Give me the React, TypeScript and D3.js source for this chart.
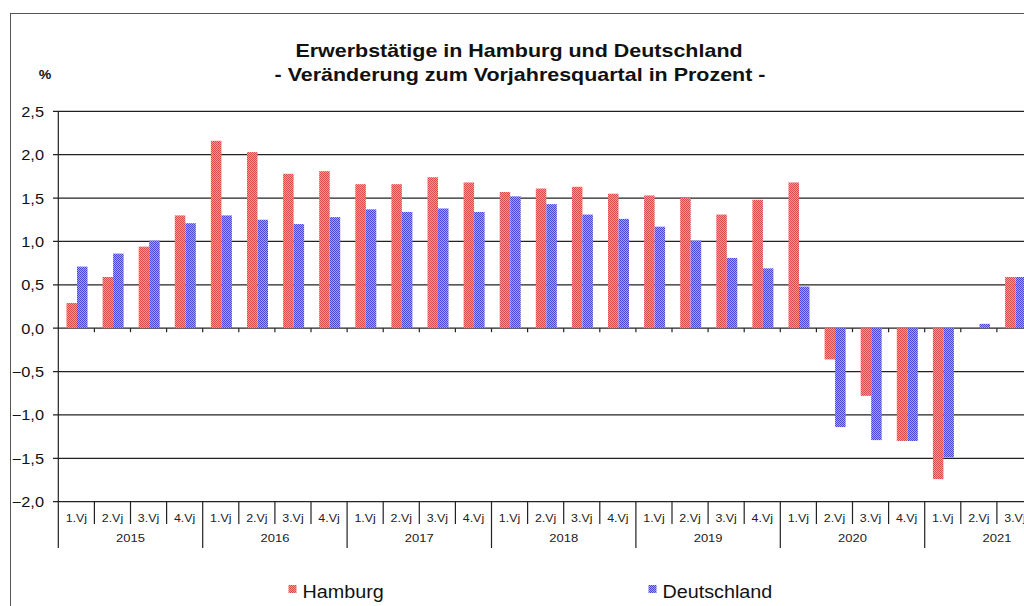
import * as d3 from "d3";

const years = ["2015", "2016", "2017", "2018", "2019", "2020", "2021"];
const quarters = ["1.Vj", "2.Vj", "3.Vj", "4.Vj"];
const quarterCount = 27; // 2015 1.Vj bis 2021 3.Vj

const hamburg = [
  0.29, 0.59, 0.94, 1.3,
  2.16, 2.03, 1.78, 1.81,
  1.66, 1.66, 1.74, 1.68,
  1.57, 1.61, 1.63, 1.55,
  1.53, 1.5, 1.31, 1.48,
  1.68, -0.36, -0.78, -1.3,
  -1.74, 0.0, 0.59,
];
const deutschland = [
  0.71, 0.86, 1.01, 1.21,
  1.3, 1.25, 1.2, 1.28,
  1.37, 1.34, 1.38, 1.34,
  1.52, 1.43, 1.31, 1.26,
  1.17, 1.01, 0.81, 0.69,
  0.48, -1.14, -1.29, -1.3,
  -1.49, 0.05, 0.59,
];
const yTicks = [2.5, 2.0, 1.5, 1.0, 0.5, 0.0, -0.5, -1.0, -1.5, -2.0];

const series = [
  { name: "Hamburg", values: hamburg, fill: "url(#patHH)", legendX: 288.5 },
  { name: "Deutschland", values: deutschland, fill: "url(#patDE)", legendX: 648.5 },
];

const width = 1024;
const height = 606;
const axisX = 58.3;
const bandW = 36.1;
const stretch = 1.13;
const font = "'Liberation Sans', Arial, sans-serif";

type TxtProps = {
  x: number;
  y: number;
  size: number;
  anchor?: "start" | "middle" | "end";
  bold?: boolean;
  fill?: string;
  children: React.ReactNode;
};

// Text looks horizontally widened in the original, so scale it a bit
const Txt = ({ x, y, size, anchor = "start", bold, fill = "#111", children }: TxtProps) => (
  <text
    transform={`translate(${x},${y}) scale(${stretch},1)`}
    textAnchor={anchor}
    fontSize={size}
    fontWeight={bold ? "bold" : "normal"}
    fill={fill}
  >
    {children}
  </text>
);

export default function App() {
  const y = d3.scaleLinear().domain([-2, 2.5]).range([501.7, 111.3]);
  const idx = d3.range(quarterCount);
  const x = d3
    .scaleBand<number>()
    .domain(idx)
    .range([axisX, axisX + quarterCount * bandW]);
  const inner = d3
    .scaleBand<string>()
    .domain(series.map((s) => s.name))
    .range([8.2, 29.2]);
  const fmt = (v: number) => d3.format(".1f")(v).replace(".", ",");
  const bottom = y(-2);
  const zero = y(0);
  const right = x.range()[1];

  return (
    <svg
      width={width}
      height={height}
      style={{ position: "absolute", left: 0, top: 0, background: "#fff" }}
      fontFamily={font}
    >
      <defs>
        <pattern id="patHH" width="2" height="2" patternUnits="userSpaceOnUse">
          <rect width="2" height="2" fill="#f29a9a" />
          <rect width="1" height="1" fill="#dc4a4a" />
          <rect x="1" y="1" width="1" height="1" fill="#dc4a4a" />
        </pattern>
        <pattern id="patDE" width="2" height="2" patternUnits="userSpaceOnUse">
          <rect width="2" height="2" fill="#a4a4f2" />
          <rect width="1" height="1" fill="#4646d8" />
          <rect x="1" y="1" width="1" height="1" fill="#4646d8" />
        </pattern>
      </defs>

      <rect x={10.5} y={13.5} width={width + 20} height={height + 20} fill="#fff" stroke="#555" />

      <Txt x={519} y={57} size={19} anchor="middle" bold>
        Erwerbstätige in Hamburg und Deutschland
      </Txt>
      <Txt x={520} y={80.5} size={19} anchor="middle" bold>
        - Veränderung zum Vorjahresquartal in Prozent -
      </Txt>
      <Txt x={45} y={79} size={12.5} anchor="middle" bold>
        %
      </Txt>

      {yTicks.map((t) => (
        <g key={t}>
          <line x1={53} x2={right} y1={y(t)} y2={y(t)} stroke="#222" strokeWidth={1.2} />
          <Txt x={44} y={y(t) + 5.5} size={14.5} anchor="end">
            {fmt(t)}
          </Txt>
        </g>
      ))}

      {series.map((s) =>
        s.values.map((v, i) => (
          <rect
            key={s.name + i}
            x={x(i)! + inner(s.name)!}
            width={inner.bandwidth()}
            y={Math.min(y(v), zero)}
            height={Math.abs(y(v) - zero)}
            fill={s.fill}
          />
        ))
      )}

      <line x1={axisX} x2={axisX} y1={y(2.5)} y2={548} stroke="#222" strokeWidth={1.2} />
      {idx.map((i) => (
        <line key={"zt" + i} x1={x(i)! + bandW} x2={x(i)! + bandW} y1={zero} y2={zero + 4} stroke="#222" strokeWidth={1.2} />
      ))}

      {idx.map((i) => (
        <g key={"q" + i}>
          <line
            x1={x(i)! + bandW}
            x2={x(i)! + bandW}
            y1={bottom}
            y2={(i + 1) % 4 === 0 ? 548 : 524}
            stroke="#222"
            strokeWidth={1.2}
          />
          <Txt x={x(i)! + bandW / 2} y={521.5} size={11} anchor="middle" fill="#222">
            {quarters[i % 4]}
          </Txt>
        </g>
      ))}

      {years.map((yr, i) => (
        <Txt key={yr} x={x(i * 4)! + 2 * bandW} y={542} size={11.5} anchor="middle" fill="#222">
          {yr}
        </Txt>
      ))}

      {series.map((s) => (
        <g key={"lg" + s.name}>
          <rect x={s.legendX} y={585} width={8} height={8} fill={s.fill} />
          <Txt x={s.legendX + 14} y={597.5} size={17.5}>
            {s.name}
          </Txt>
        </g>
      ))}
    </svg>
  );
}
